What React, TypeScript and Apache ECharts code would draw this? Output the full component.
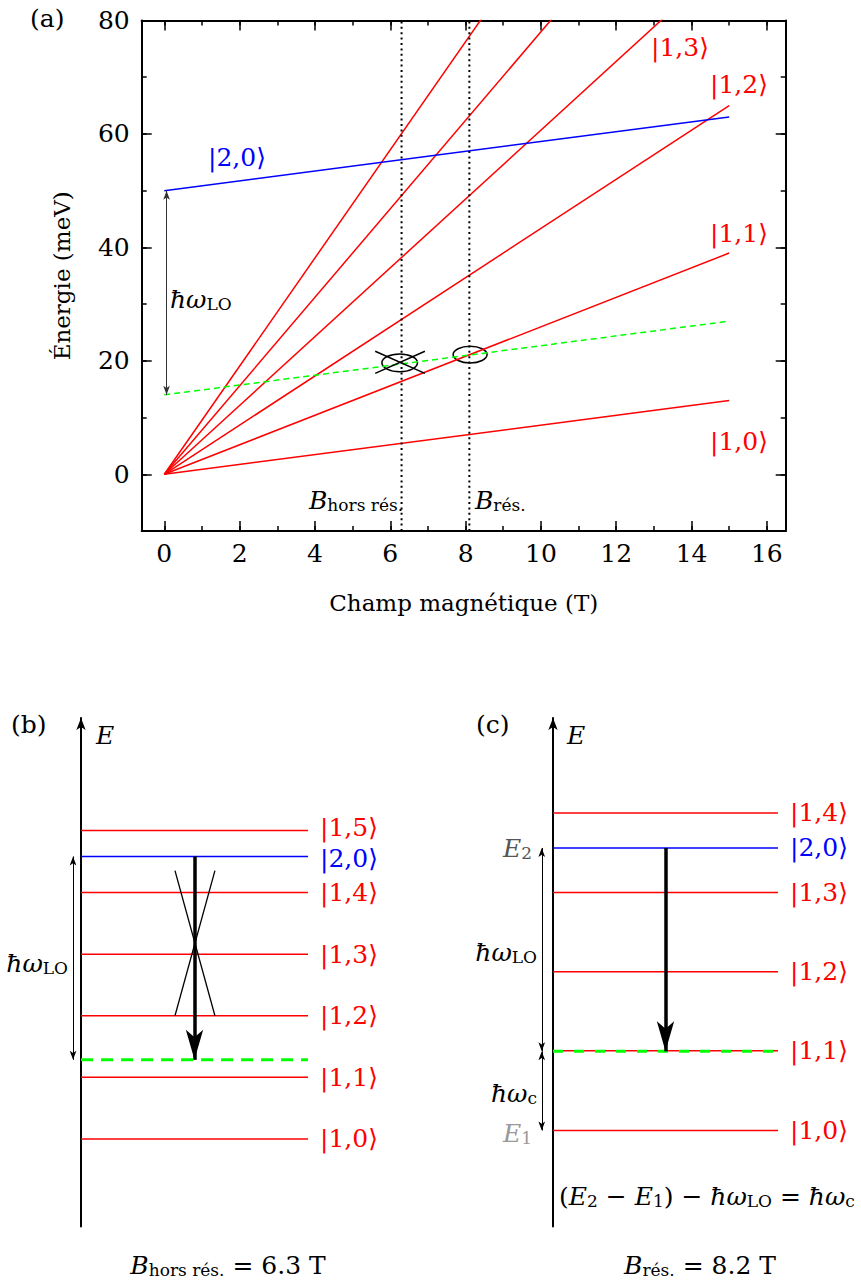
import React, { useEffect, useRef } from "react";
import * as echarts from "echarts";

// ---------- panel (a): energy vs magnetic field ----------
const fieldMajorTicks = [0, 2, 4, 6, 8, 10, 12, 14, 16];
const fieldMinorTicks = [0, 1, 2, 3, 4, 5, 6, 7, 8, 9, 10, 11, 12, 13, 14, 15, 16];
const energyMajorTicks = [0, 20, 40, 60, 80];
const energyMinorTicks = [-10, 0, 10, 20, 30, 40, 50, 60, 70, 80];
const fieldRange = [-0.6, 16.5];
const energyRange = [-10, 80];

const fieldStart = 0;
const fieldEnd = 15;
const landauNames = ["|1,0⟩", "|1,1⟩", "|1,2⟩", "|1,3⟩", "|1,4⟩", "|1,5⟩"];
const landauStartEnergy = [0, 0, 0, 0, 0, 0];
const landauEndEnergy = [13, 39, 65, 91, 117, 143];
const excitedName = "|2,0⟩";
const excitedEnergy = [50, 63];
const excitedMinusLO = [14, 27];
const offResonanceField = 6.3;
const resonanceField = 8.1;
const loArrowField = 0.06;
const crossA = [
  [5.6, 21.7, 6.92, 17.8],
  [5.6, 17.8, 6.92, 21.7],
];
const circleOff = [6.25, 19.65];
const circleRes = [8.12, 21.1];

// ---------- panel (b): B = 6.3 T (off resonance) ----------
const offLevelNames = ["|1,0⟩", "|1,1⟩", "|1,2⟩", "|1,3⟩", "|1,4⟩", "|1,5⟩"];
const offLevelEnergy = [5.5, 16.4, 27.3, 38.2, 49.1, 60.1];
const offExcited = 55.5;
const offExcitedMinusLO = 19.5;
const offCross = [
  [0.414, 53, 0.59, 27.3],
  [0.59, 53, 0.414, 27.3],
];

// ---------- panel (c): B = 8.2 T (resonance) ----------
const resLevelNames = ["|1,0⟩", "|1,1⟩", "|1,2⟩", "|1,3⟩", "|1,4⟩"];
const resLevelEnergy = [7.0, 21.1, 35.1, 49.1, 63.2];
const resExcited = 57.0;
const resExcitedMinusLO = 21.0;

const levelRange = [-0.2, 1];

const RED = "#ff0000";
const BLUE = "#0000ff";
const GREEN = "#00ff00";
const FF = "'DejaVu Serif', 'Liberation Serif', serif";
const FS = 25;
const SUB = 17;

const frameLine = { show: true, onZero: false, lineStyle: { color: "#000", width: 2 } };
const noLine = { show: false, onZero: false };
const tick = (vals: number[], len: number) => ({
  show: true,
  inside: true,
  length: len,
  customValues: vals,
  lineStyle: { color: "#000", width: 1.5 },
});

function line(
  data: number[][],
  color: string,
  width: number,
  xi: number,
  yi: number,
  extra: any = {},
  type: any = "solid"
) {
  return {
    type: "line",
    xAxisIndex: xi,
    yAxisIndex: yi,
    data,
    symbol: "none",
    showSymbol: false,
    silent: true,
    clip: true,
    animation: false,
    lineStyle: { color, width, type },
    itemStyle: { color },
    emphasis: { disabled: true },
    ...extra,
  };
}

function marks(segs: number[][], symbol: string[], size: number[], width: number, color = "#000") {
  return {
    silent: true,
    symbol,
    symbolSize: size,
    label: { show: false },
    emphasis: { disabled: true },
    lineStyle: { color, width, type: "solid", opacity: 1 },
    data: segs.map((s) => [{ coord: [s[0], s[1]] }, { coord: [s[2], s[3]] }]),
  };
}

const levelLabel = (text: string, color: string, dy = 0, size = FS) => ({
  show: true,
  formatter: () => text,
  color,
  fontFamily: FF,
  fontSize: size,
  lineHeight: 22,
  distance: 12,
  offset: [0, dy],
});

const rich = {
  i: { fontFamily: FF, fontStyle: "italic", fontSize: FS, lineHeight: 30, verticalAlign: "bottom" },
  r: { fontFamily: FF, fontSize: FS, lineHeight: 30, verticalAlign: "bottom" },
  s: { fontFamily: FF, fontSize: SUB, lineHeight: 12, verticalAlign: "bottom" },
};

function text(x: number, y: number, t: string, color = "#000", align = "left", extra: any = {}) {
  return {
    type: "text",
    x,
    y,
    silent: true,
    style: {
      text: t,
      fill: color,
      fontFamily: FF,
      fontSize: FS,
      align,
      verticalAlign: "middle",
      rich,
      ...extra,
    },
  };
}

function buildOption() {
  const xAxis: any[] = [
    {
      type: "value", gridIndex: 0, position: "bottom", min: fieldRange[0], max: fieldRange[1],
      axisLine: frameLine, axisTick: tick(fieldMajorTicks, 10), splitLine: { show: false },
      axisLabel: { show: true, customValues: fieldMajorTicks, margin: 10, color: "#000", fontFamily: FF, fontSize: FS },
      name: "Champ magnétique (T)", nameLocation: "middle", nameGap: 60,
      nameTextStyle: { color: "#000", fontFamily: FF, fontSize: 23 },
    },
    {
      type: "value", gridIndex: 0, position: "bottom", min: fieldRange[0], max: fieldRange[1],
      axisLine: noLine, axisTick: tick(fieldMinorTicks, 5), axisLabel: { show: false }, splitLine: { show: false },
    },
    {
      type: "value", gridIndex: 0, position: "top", min: fieldRange[0], max: fieldRange[1],
      axisLine: frameLine, axisTick: tick(fieldMajorTicks, 10), axisLabel: { show: false }, splitLine: { show: false },
    },
    {
      type: "value", gridIndex: 0, position: "top", min: fieldRange[0], max: fieldRange[1],
      axisLine: noLine, axisTick: tick(fieldMinorTicks, 5), axisLabel: { show: false }, splitLine: { show: false },
    },
    { type: "value", gridIndex: 1, min: levelRange[0], max: levelRange[1], show: false },
    { type: "value", gridIndex: 2, min: levelRange[0], max: levelRange[1], show: false },
  ];
  const yAxis: any[] = [
    {
      type: "value", gridIndex: 0, position: "left", min: energyRange[0], max: energyRange[1],
      axisLine: frameLine, axisTick: tick(energyMajorTicks, 10), splitLine: { show: false },
      axisLabel: { show: true, customValues: energyMajorTicks, margin: 12, color: "#000", fontFamily: FF, fontSize: FS },
      name: "Énergie (meV)", nameLocation: "middle", nameGap: 68, nameRotate: 90,
      nameTextStyle: { color: "#000", fontFamily: FF, fontSize: 23 },
    },
    {
      type: "value", gridIndex: 0, position: "left", min: energyRange[0], max: energyRange[1],
      axisLine: noLine, axisTick: tick(energyMinorTicks, 5), axisLabel: { show: false }, splitLine: { show: false },
    },
    {
      type: "value", gridIndex: 0, position: "right", min: energyRange[0], max: energyRange[1],
      axisLine: frameLine, axisTick: tick(energyMajorTicks, 10), axisLabel: { show: false }, splitLine: { show: false },
    },
    {
      type: "value", gridIndex: 0, position: "right", min: energyRange[0], max: energyRange[1],
      axisLine: noLine, axisTick: tick(energyMinorTicks, 5), axisLabel: { show: false }, splitLine: { show: false },
    },
    ...[1, 2].map((g) => ({
      type: "value", gridIndex: g, min: energyRange[0], max: energyRange[1],
      axisLine: { show: true, onZero: true, symbol: ["none", "arrow"], symbolSize: [7, 12], lineStyle: { color: "#000", width: 2 } },
      axisTick: { show: false }, axisLabel: { show: false }, splitLine: { show: false },
    })),
  ];

  const series: any[] = [];
  // panel (a)
  landauNames.forEach((n, i) => {
    series.push(line([[fieldStart, landauStartEnergy[i]], [fieldEnd, landauEndEnergy[i]]], RED, 1.5, 0, 0, { name: n }));
  });
  series.push(line([[fieldStart, excitedEnergy[0]], [fieldEnd, excitedEnergy[1]]], BLUE, 1.5, 0, 0, { name: excitedName }));
  series.push(
    line([[fieldStart, excitedMinusLO[0]], [fieldEnd, excitedMinusLO[1]]], GREEN, 1.5, 0, 0, {
      name: "|2,0⟩ − ħωLO",
      markLine: marks([[loArrowField, excitedEnergy[0], loArrowField, excitedMinusLO[0]]], ["arrow", "arrow"], [5, 9], 1, "#333"),
    }, [6, 4])
  );
  [offResonanceField, resonanceField].forEach((b) => {
    series.push(line([[b, energyRange[0]], [b, energyRange[1]]], "#000", 2, 0, 0, {}, [2, 3.4]));
  });
  crossA.forEach((c) => series.push(line([[c[0], c[1]], [c[2], c[3]]], "#000", 1.5, 0, 0)));

  // panel (b)
  offLevelEnergy.forEach((e, i) => {
    const dy = i === offLevelEnergy.length - 1 ? -3 : 0;
    series.push(line([[0, e], [1, e]], RED, 1.5, 4, 4, { endLabel: levelLabel(offLevelNames[i], RED, dy) }));
  });
  series.push(line([[0, offExcited], [1, offExcited]], BLUE, 1.5, 4, 4, {
    endLabel: levelLabel(excitedName, BLUE, 2),
    markLine: marks([[0.5, offExcited, 0.5, offExcitedMinusLO]], ["none", "arrow"], [13, 30], 3.5),
  }));
  series.push(line([[0, offExcitedMinusLO], [1, offExcitedMinusLO]], GREEN, 3, 4, 4, {
    markLine: marks([[-0.035, offExcited, -0.035, offExcitedMinusLO]], ["arrow", "arrow"], [5, 9], 1),
  }, [12, 8]));
  series.push(line([], "#000", 1, 4, 4, { markLine: marks(offCross, ["none", "none"], [1, 1], 1.3) }));

  // panel (c)
  resLevelEnergy.forEach((e, i) => {
    series.push(line([[0, e], [1, e]], RED, 1.5, 5, 5, { endLabel: levelLabel(resLevelNames[i], RED) }));
  });
  series.push(line([[0, resExcited], [1, resExcited]], BLUE, 1.5, 5, 5, {
    endLabel: levelLabel(excitedName, BLUE),
    markLine: marks([[0.5, resExcited, 0.5, resExcitedMinusLO]], ["none", "arrow"], [13, 30], 3.5),
  }));
  series.push(line([[0, resExcitedMinusLO], [1, resExcitedMinusLO]], GREEN, 3, 5, 5, {
    markLine: marks(
      [
        [-0.05, resExcited, -0.05, resExcitedMinusLO],
        [-0.05, resExcitedMinusLO, -0.05, resLevelEnergy[0]],
      ],
      ["arrow", "arrow"], [5, 9], 1
    ),
  }, [10, 11]));

  return {
    animation: false,
    backgroundColor: "#fff",
    grid: [
      { left: 141.7, top: 20.5, width: 644, height: 510.5, containLabel: false },
      { left: 35.6, top: 718, width: 272.4, height: 508.5, containLabel: false },
      { left: 508, top: 718, width: 270, height: 508.5, containLabel: false },
    ],
    xAxis,
    yAxis,
    series,
  };
}

export default function App() {
  const ref = useRef<HTMLDivElement>(null);
  useEffect(() => {
    document.body.style.margin = "0";
    const chart = echarts.init(ref.current!, null, { renderer: "svg" });
    chart.setOption(buildOption());
    const p = (c: number[]) => chart.convertToPixel({ gridIndex: 0 }, c) as number[];
    const c1 = p(circleOff);
    const c2 = p(circleRes);
    const graphic: any[] = [
      { type: "ellipse", silent: true, shape: { cx: c1[0], cy: c1[1], rx: 17.8, ry: 8.9 }, style: { fill: "none", stroke: "#000", lineWidth: 1.5 } },
      { type: "ellipse", silent: true, shape: { cx: c2[0], cy: c2[1], rx: 17, ry: 8.3 }, style: { fill: "none", stroke: "#000", lineWidth: 1.5 } },
      text(30, 18, "(a)"),
      text(208, 157, excitedName, BLUE),
      text(651, 47, landauNames[3], RED),
      text(710, 84, landauNames[2], RED),
      text(710, 233, landauNames[1], RED),
      text(710, 441, landauNames[0], RED),
      text(170, 297, "{i|ħω}{s|LO}"),
      text(309, 498, "{i|B}{s|hors rés.}"),
      text(475, 498, "{i|B}{s|rés.}"),
      // (b)
      text(11, 724, "(b)"),
      text(96, 733, "{i|E}"),
      text(68, 961, "{i|ħω}{s|LO}", "#000", "right"),
      text(228, 1263, "{i|B}{s|hors rés.}{r| = 6.3 T}", "#000", "center"),
      // (c)
      text(476, 724, "(c)"),
      text(567, 733, "{i|E}"),
      text(537, 950, "{i|ħω}{s|LO}", "#000", "right"),
      text(537, 1091, "{i|ħω}{s|c}", "#000", "right"),
      text(532, 846, "{i|E}{s|2}", "#555", "right"),
      text(532, 1131, "{i|E}{s|1}", "#999", "right"),
      text(559, 1194, "{r|(}{i|E}{s|2}{r| − }{i|E}{s|1}{r|) − }{i|ħω}{s|LO}{r| = }{i|ħω}{s|c}"),
      text(700, 1263, "{i|B}{s|rés.}{r| = 8.2 T}", "#000", "center"),
    ];
    chart.setOption({ graphic });
    return () => chart.dispose();
  }, []);
  return <div ref={ref} style={{ width: 861, height: 1281, background: "#fff" }} />;
}
